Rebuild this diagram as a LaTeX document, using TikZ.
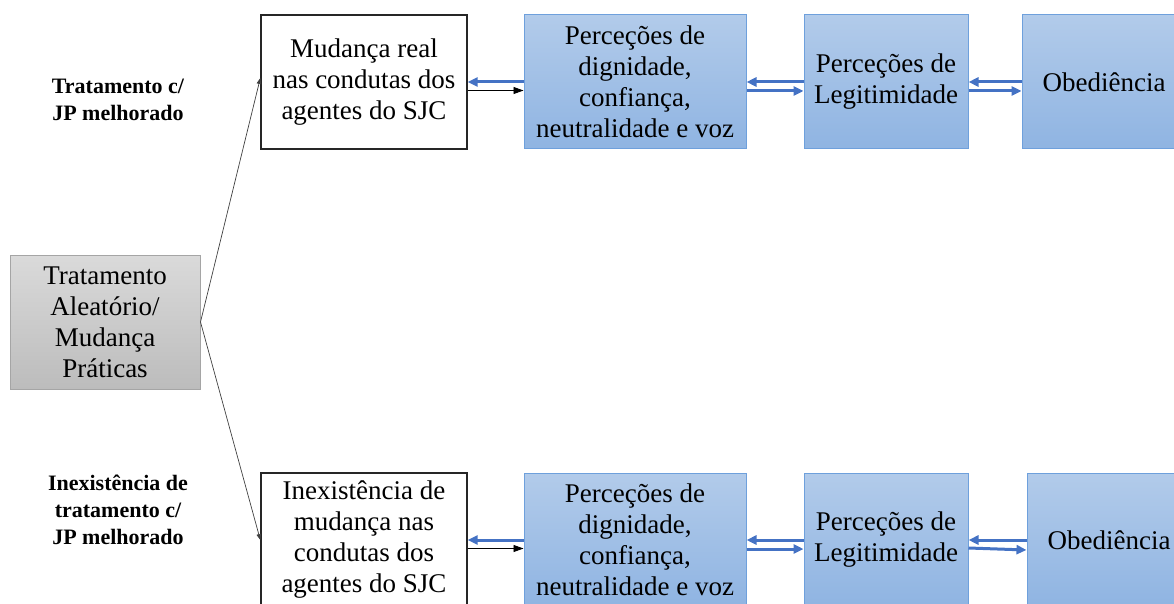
\documentclass[tikz,border=0pt]{standalone}
\usepackage{fontspec}
\setmainfont{Liberation Serif}
\usetikzlibrary{arrows.meta}
\definecolor{arrblue}{RGB}{68,114,196}
\definecolor{boxtop}{RGB}{178,203,234}
\definecolor{boxbot}{RGB}{143,180,226}
\definecolor{boxedge}{RGB}{110,160,220}
\definecolor{graytop}{RGB}{218,218,218}
\definecolor{graybot}{RGB}{188,188,188}
\definecolor{grayedge}{RGB}{165,165,165}
\begin{document}
\begin{tikzpicture}[x=1pt,y=-1pt,
 txt/.style={font=\fontsize{27}{31}\selectfont, align=center, inner sep=0pt, minimum height=134pt},
 whitebox/.style={txt, draw=black!85, line width=1.3pt, fill=white},
 bluebox/.style={txt, draw=boxedge, line width=1pt, top color=boxtop, bottom color=boxbot},
 graybox/.style={txt, draw=grayedge, line width=1pt, top color=graytop, bottom color=graybot},
 lbl/.style={font=\bfseries\fontsize{22}{27}\selectfont, align=center},
 barrow/.style={draw=arrblue, line width=3pt, -{Triangle[length=10pt,width=9pt]}},
 karrow/.style={draw=black, line width=0.9pt, -{Triangle[length=10pt,width=7pt]}},
 darrow/.style={draw=black!75, line width=0.7pt, -{Triangle[length=6pt,width=4.5pt]}},
]
\useasboundingbox (0,0) rectangle (1174,604);
\clip (0,0) rectangle (1174,604);

\node[graybox, minimum width=190pt] (src) at (105,322) {Tratamento\\Aleatório/\\Mudança\\Práticas};

\node[whitebox, minimum width=206pt] (t1) at (364,82) {Mudança real\\nas condutas dos\\agentes do SJC};
\node[bluebox, minimum width=222pt] (t2) at (635,82) {Perceções de\\dignidade,\\confiança,\\neutralidade e voz};
\node[bluebox, minimum width=164pt] (t3) at (886,82) {Perceções de\\Legitimidade};
\node[bluebox, minimum width=164pt] (t4) at (1104,82) {Obediência};

\node[whitebox, minimum width=206pt] (b1) at (364,540) {Inexistência de\\mudança nas\\condutas dos\\agentes do SJC};
\node[bluebox, minimum width=222pt] (b2) at (635,540) {Perceções de\\dignidade,\\confiança,\\neutralidade e voz};
\node[bluebox, minimum width=164pt] (b3) at (886,540) {Perceções de\\Legitimidade};
\node[bluebox, minimum width=164pt] (b4) at (1109,540) {Obediência};

\node[lbl] (lt) at (118,100) {Tratamento c/\\JP melhorado};
\node[lbl] (lb) at (118,510) {Inexistência de\\tratamento c/\\JP melhorado};

\draw[darrow] (src.east) -- ([yshift=4pt]t1.west);
\draw[darrow] (src.east) -- (b1.west);

\draw[barrow] (t2.west) -- (t1.east);
\draw[karrow] ([yshift=-8.5pt]t1.east) -- ([yshift=-8.5pt]t2.west);
\draw[barrow] (t3.west) -- (t2.east);
\draw[barrow] ([yshift=-9pt]t2.east) -- ([yshift=-9pt]t3.west);
\draw[barrow] (t4.west) -- (t3.east);
\draw[barrow] ([yshift=-9pt]t3.east) -- ([yshift=-9pt]t4.west);

\draw[barrow] (b2.west) -- (b1.east);
\draw[karrow] ([yshift=-8.5pt]b1.east) -- ([yshift=-8.5pt]b2.west);
\draw[barrow] (b3.west) -- (b2.east);
\draw[barrow] ([yshift=-9pt]b2.east) -- ([yshift=-9pt]b3.west);
\draw[barrow] (b4.west) -- (b3.east);
\draw[barrow] ([yshift=-8pt]b3.east) -- ([yshift=-10pt]b4.west);
\end{tikzpicture}
\end{document}
